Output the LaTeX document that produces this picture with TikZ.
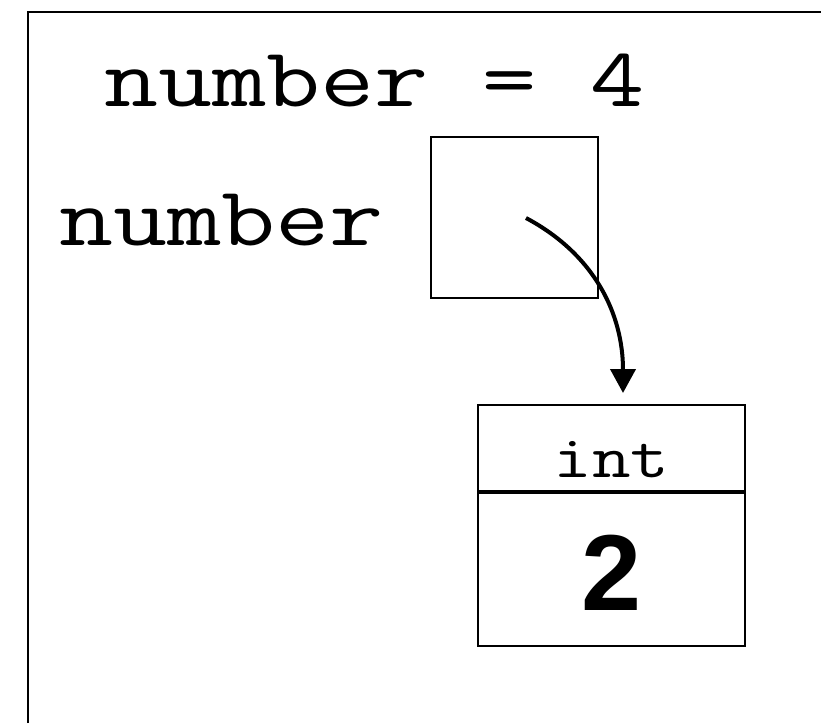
\documentclass[tikz,border=0pt]{standalone}
\usepackage{fontspec}
\setmainfont{Liberation Sans}
\setmonofont{Latin Modern Mono}[FakeStretch=1.25]
\usetikzlibrary{arrows.meta}

\tikzset{
    code/.style={font=\ttfamily\fontsize{84}{84}\selectfont, inner sep=0pt, anchor=base west},
    cell/.style={draw, line width=2pt, inner sep=0pt, minimum width=267pt}
}

\begin{document}
\begin{tikzpicture}[x=1pt, y=-1pt]
    \useasboundingbox (0,0) rectangle (821,723);
    % frame
    \draw[line width=2.5pt] (28,723) -- (28,12) -- (821,12);

    % code and name
    \node[code] (assign) at (104,106) {number = 4};
    \node[code] (name) at (59,245) {number};

    % reference box
    \node[draw, line width=2pt, minimum width=167pt, minimum height=161pt] (ref) at (514.5,217.5) {};
    \coordinate (start) at (526,218);

    % object
    \node[cell, anchor=north, text height=72pt, text depth=14pt,
          font=\ttfamily\fontsize{60}{60}\selectfont] (type) at (611.5,404) {int};
    \node[cell, anchor=north, text height=117pt, text depth=36pt,
          font=\bfseries\fontsize{108}{108}\selectfont] (value) at (type.south) {2};
    \coordinate (tip) at (623,393);

    % pointer
    \draw[line width=4pt, -{Triangle[width=25pt, length=24pt]}] (start) to[out=-28, in=90] (tip);
\end{tikzpicture}
\end{document}
